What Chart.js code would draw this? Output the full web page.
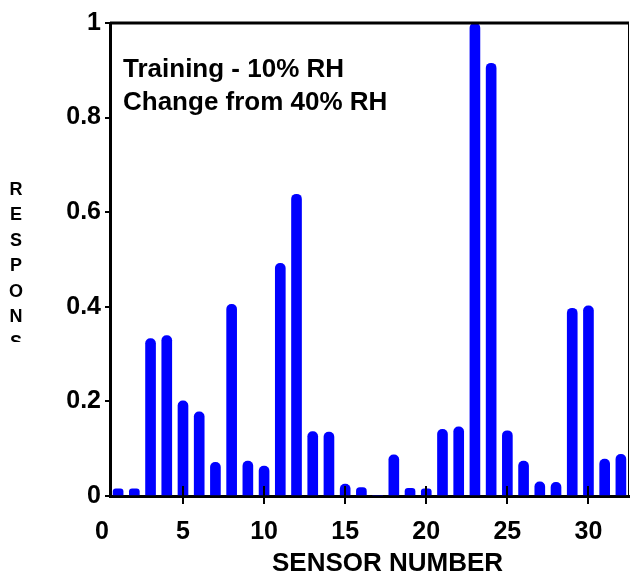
<!DOCTYPE html>
<html>
<head>
<meta charset="utf-8">
<script src="https://cdn.jsdelivr.net/npm/chart.js@4.4.1/dist/chart.umd.min.js"></script>
<style>
  body { margin: 0; background: #fff; }
  #wrap { width: 630px; height: 579px; position: relative; }
</style>
</head>
<body>
<div id="wrap"><canvas id="myChart"></canvas></div>
<script>
const sensors = [1, 2, 3, 4, 5, 6, 7, 8, 9, 10, 11, 12, 13, 14, 15, 16,
                 17, 18, 19, 20, 21, 22, 23, 24, 25, 26, 27, 28, 29, 30, 31, 32];
const responses = [0.015, 0.015, 0.333, 0.339, 0.201, 0.178, 0.071, 0.405, 0.074, 0.063, 0.492, 0.638, 0.136, 0.135, 0.025, 0.018,
                   0, 0.087, 0.016, 0.015, 0.141, 0.146, 1.0, 0.915, 0.138, 0.074, 0.030, 0.029, 0.397, 0.402, 0.078, 0.088];
const xTickValues = [0, 5, 10, 15, 20, 25, 30];
const yTickValues = [0, 0.2, 0.4, 0.6, 0.8, 1];
const noteLines = ['Training - 10% RH', 'Change from 40% RH'];
const yTitle = 'RESPONSE';
const xTitle = 'SENSOR NUMBER';

const fontFamily = '"Liberation Sans", Arial, sans-serif';

// top + right frame, inner part of x ticks, notes, stacked y title
const extras = {
    id: 'extras',
    afterDraw(chart) {
        const ctx = chart.ctx;
        const a = chart.chartArea;
        const xs = chart.scales.x;
        ctx.save();
        ctx.strokeStyle = '#000';
        ctx.lineWidth = 3;
        ctx.beginPath();
        ctx.moveTo(a.left, a.top);
        ctx.lineTo(a.right, a.top);
        ctx.stroke();
        ctx.lineWidth = 1;
        ctx.beginPath();
        ctx.moveTo(a.right - 0.5, a.top);
        ctx.lineTo(a.right - 0.5, a.bottom);
        ctx.stroke();

        ctx.lineWidth = 2;
        xTickValues.forEach(function(v) {
            if (v === 0) return;
            const px = Math.round(xs.getPixelForValue(v));
            ctx.beginPath();
            ctx.moveTo(px, a.bottom);
            ctx.lineTo(px, a.bottom - 10);
            ctx.stroke();
        });

        ctx.fillStyle = '#000';
        ctx.font = 'bold 26px ' + fontFamily;
        ctx.textBaseline = 'alphabetic';
        ctx.textAlign = 'left';
        ctx.fillText(noteLines[0], 123, 77);
        ctx.fillText(noteLines[1], 123, 110);

        // stacked title, cut off through the 7th letter like the original
        ctx.beginPath();
        ctx.rect(0, 0, 40, 342);
        ctx.clip();
        ctx.font = 'bold 18px ' + fontFamily;
        ctx.textAlign = 'center';
        ctx.textBaseline = 'middle';
        yTitle.split('').forEach(function(ch, i) {
            ctx.fillText(ch, 16, 190 + i * 25.5);
        });
        ctx.restore();
    }
};

const data = {
    datasets: [{
        label: 'Response',
        backgroundColor: '#0000ff',
        borderWidth: 0,
        borderRadius: 5,
        barThickness: 10,
        data: sensors.map(function(s, i) {
            return { x: s, y: responses[i] };
        })
    }]
};

const config = {
    type: 'bar',
    data: data,
    options: {
        responsive: true,
        maintainAspectRatio: false,
        animation: false,
        layout: { padding: { top: 23, right: 1, left: 0, bottom: 0 } },
        plugins: {
            legend: { display: false },
            tooltip: { enabled: false }
        },
        scales: {
            x: {
                type: 'linear',
                min: 0.5,
                max: 32.5,
                offset: false,
                z: 1,
                afterBuildTicks: function(scale) {
                    scale.ticks = xTickValues.map(function(v) { return { value: v }; });
                },
                afterFit: function(scale) { scale.height = 83; },
                border: { display: true, color: '#000', width: 3 },
                grid: {
                    offset: false,
                    drawOnChartArea: false,
                    drawTicks: true,
                    tickLength: 8,
                    lineWidth: 2,
                    color: function(c) {
                        return c.tick && c.tick.value === 0 ? 'rgba(0,0,0,0)' : '#000';
                    }
                },
                ticks: {
                    autoSkip: false,
                    maxRotation: 0,
                    padding: 13,
                    color: '#000',
                    font: { family: fontFamily, size: 25, weight: 'bold' },
                    callback: function(v) { return String(v); }
                },
                title: {
                    display: true,
                    text: '     ' + xTitle,
                    color: '#000',
                    padding: { top: 0, bottom: 0 },
                    font: { family: fontFamily, size: 26, weight: 'bold' }
                }
            },
            y: {
                min: 0,
                max: 1,
                z: 1,
                afterBuildTicks: function(scale) {
                    scale.ticks = yTickValues.map(function(v) { return { value: v }; });
                },
                afterFit: function(scale) { scale.width = 110; },
                border: { display: true, color: '#000', width: 3 },
                grid: {
                    drawOnChartArea: false,
                    tickLength: 5,
                    lineWidth: 2,
                    color: '#000'
                },
                ticks: {
                    padding: 4,
                    color: '#000',
                    font: { family: fontFamily, size: 25, weight: 'bold' },
                    callback: function(v) { return String(Math.round(v * 10) / 10); }
                }
            }
        }
    },
    plugins: [extras]
};

const myChart = new Chart(document.getElementById('myChart'), config);
</script>
</body>
</html>
